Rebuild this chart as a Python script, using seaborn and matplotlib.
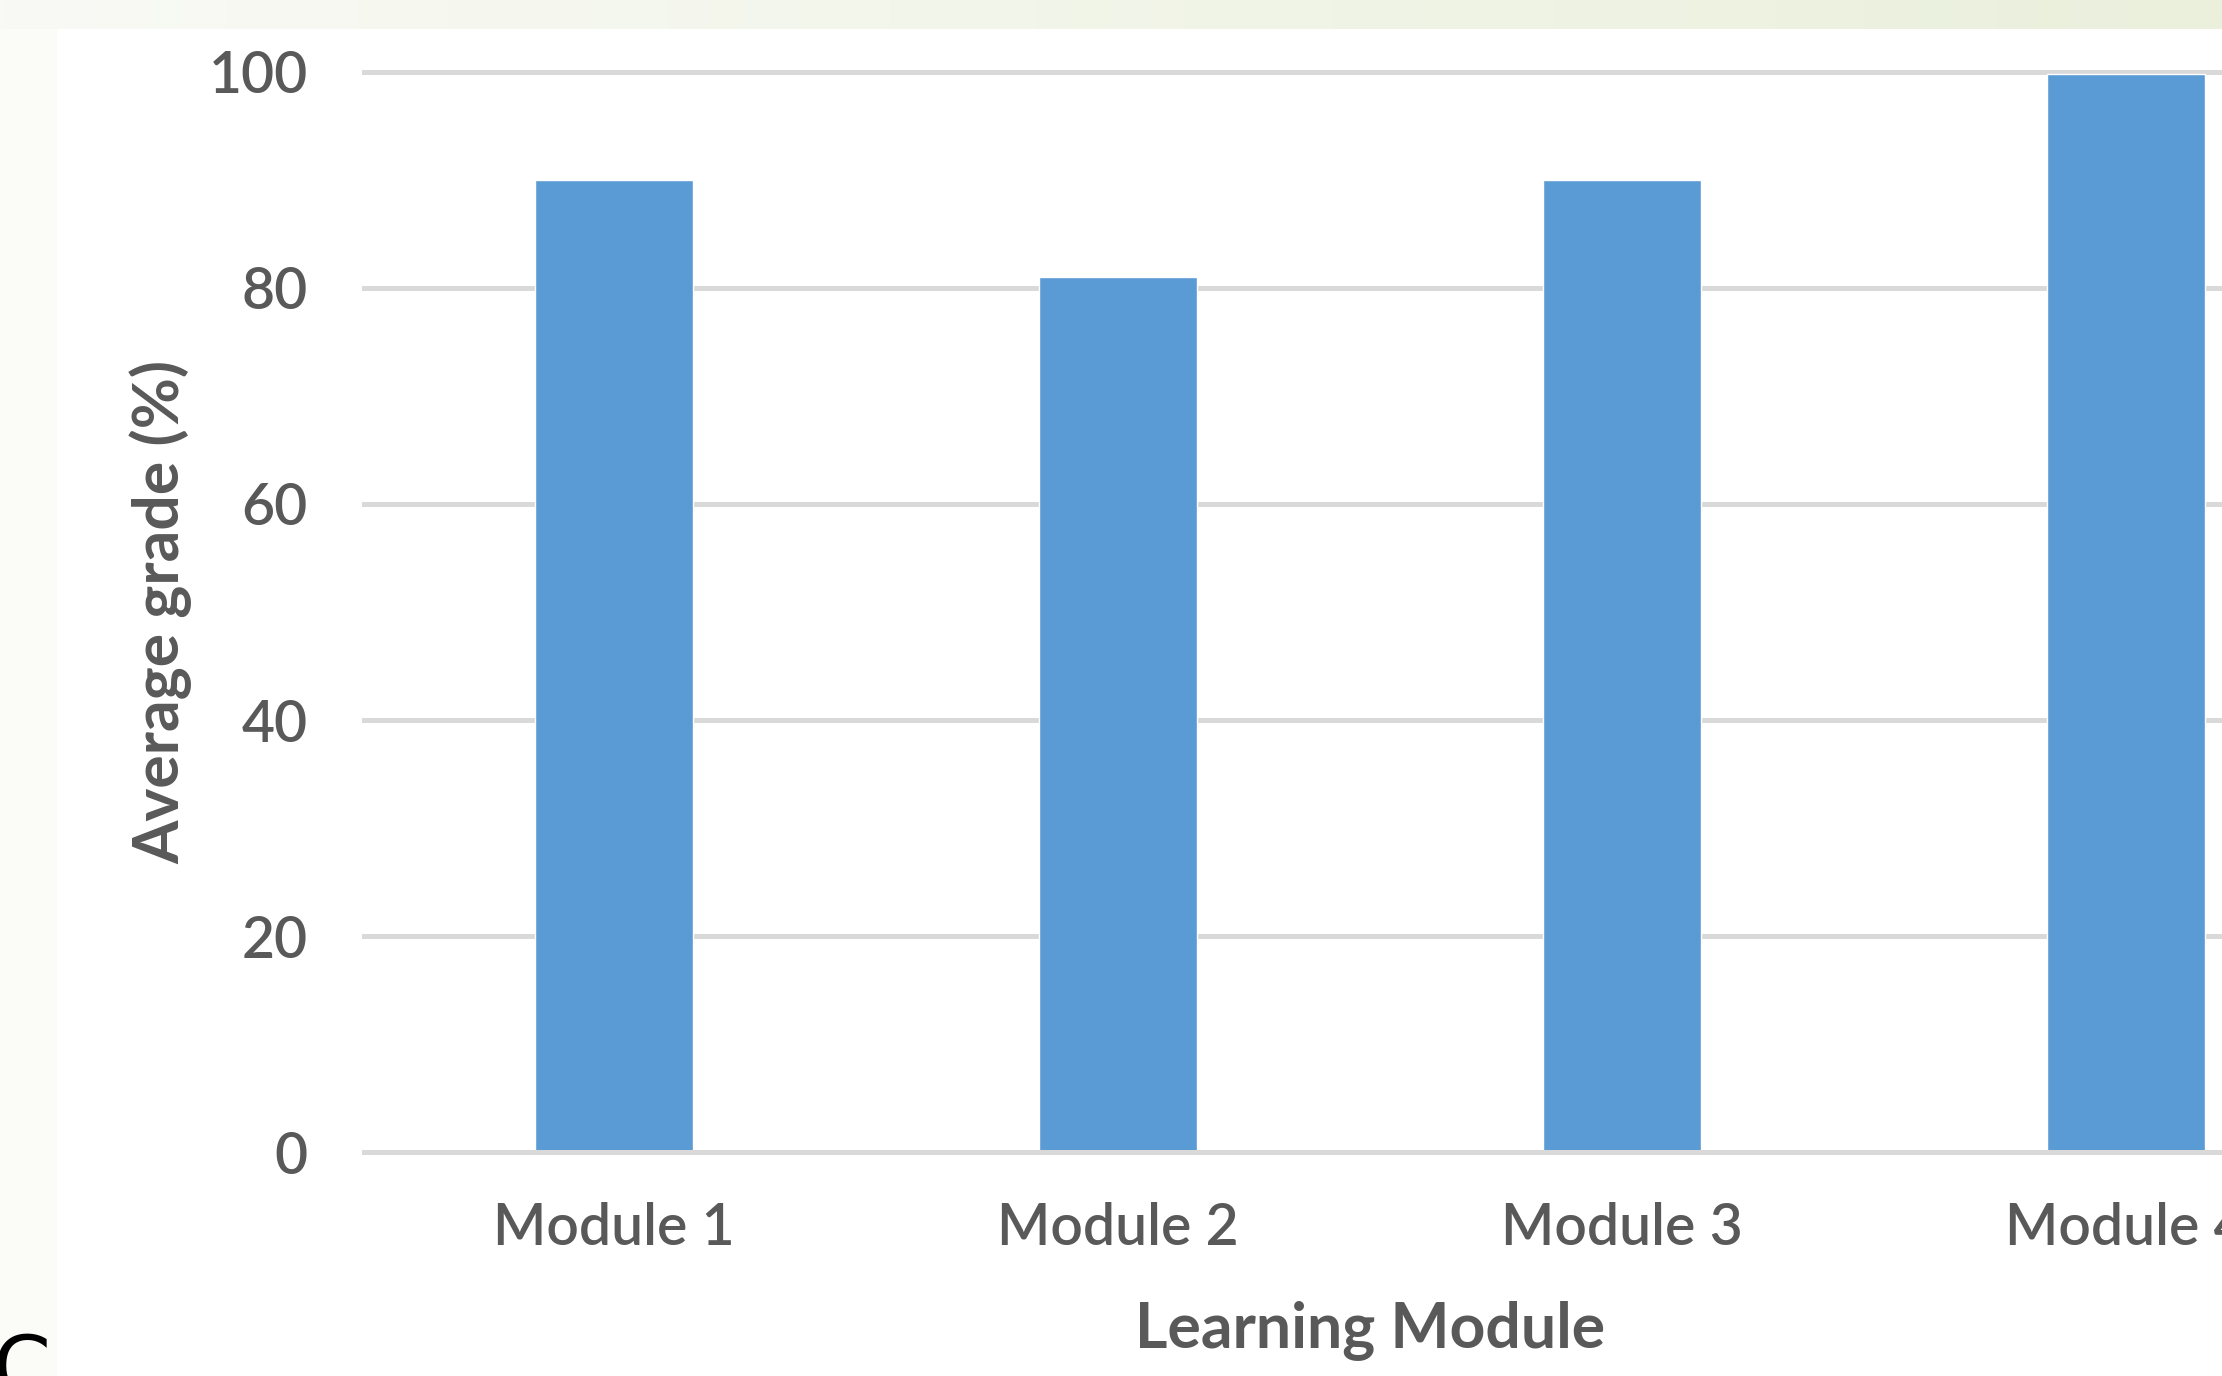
import numpy as np
import matplotlib
matplotlib.use("Agg")
import matplotlib.pyplot as plt
import seaborn as sns

modules = ["Module 1", "Module 2", "Module 3", "Module 4"]
grades = [90, 81, 90, 99.8]
yticks = [0, 20, 40, 60, 80, 100]

sns.set_style("white")
plt.rcParams["font.family"] = ["Lato", "DejaVu Sans"]
grey = "#595959"

W, H = 2222, 1376
fig = plt.figure(figsize=(W / 100, H / 100), dpi=100)
fig.patch.set_facecolor("white")

# page background: greenish band on top, off-white strip on the left
bg = fig.add_axes([0, 0, 1, 1], zorder=-10)
c0 = np.array([249, 250, 245]) / 255
c1 = np.array([234, 240, 220]) / 255
t = np.linspace(0, 1, 256)[None, :, None]
grad = c0 + (c1 - c0) * t
bg.imshow(grad, extent=[0, W, 29, 0], aspect="auto", interpolation="bilinear")
bg.add_patch(plt.Rectangle((0, 29), 57, H - 29, color="#FBFBF8", lw=0))
bg.set_xlim(0, W)
bg.set_ylim(H, 0)
bg.axis("off")

# chart axes
left, right = 362, W
top_px, bot_px = 68.8, 1155.2
ax = fig.add_axes([left / W, (H - bot_px) / H, (right - left) / W, (bot_px - top_px) / H])
ax.set_facecolor("none")
sns.barplot(x=modules, y=grades, color="#5B9BD5", saturation=1, width=0.315, ax=ax, zorder=2)
ax.set_xlim(-0.5, (right - left) / 504 - 0.5)
ax.set_ylim(-0.25, 100.25)
ax.set_yticks(yticks)
ax.yaxis.grid(True, color="#D9D9D9", linewidth=3.6)
ax.set_axisbelow(True)
ax.axhline(0, color="#D9D9D9", linewidth=3.6, zorder=3)
for s in ax.spines.values():
    s.set_visible(False)
ax.tick_params(axis="both", length=0, labelsize=41, labelcolor=grey)
ax.tick_params(axis="y", pad=39)
ax.tick_params(axis="x", pad=34)
for lab in ax.get_xticklabels() + ax.get_yticklabels():
    lab.set_fontweight("semibold")
ax.set_xlabel("Learning Module", fontsize=45, color=grey, fontweight="bold")
ax.set_ylabel("Average grade (%)", fontsize=45, color=grey, fontweight="bold")
ax.xaxis.set_label_coords(0.542, -0.133)
ax.yaxis.set_label_coords(-0.091, 0.5)

# stray letter cut off at the bottom-left corner
fig.text(-8 / W, (H - 1396) / H, "C", fontsize=60, color="black",
         family="DejaVu Sans", va="baseline", ha="left")

fig.savefig("out.png", dpi=100)
